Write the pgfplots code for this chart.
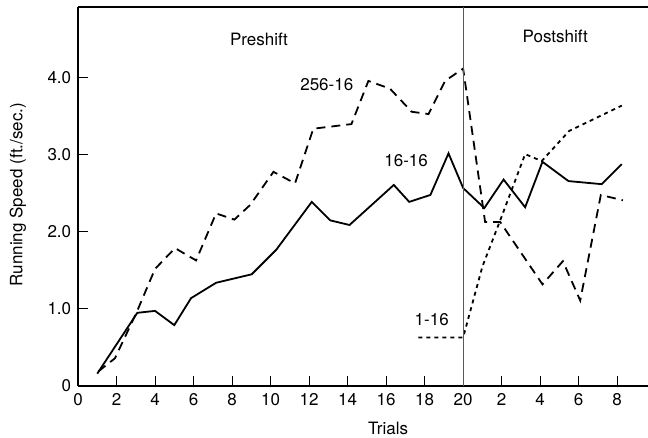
\documentclass[border=0pt]{standalone}
\usepackage{fontspec}
\setmainfont{TeX Gyre Heros}
\usepackage{pgfplots}
\pgfplotsset{compat=1.18}

\begin{document}
\fontsize{17}{20}\selectfont
\begin{tikzpicture}
\begin{axis}[
    at={(0,0)}, anchor=south west,
    scale only axis,
    width=570pt, height=379pt,
    xmin=0, xmax=29.6,
    ymin=0, ymax=4.92,
    axis x line*=box,
    axis y line*=left,
    axis line style={line width=1.3pt},
    tick align=inside,
    xtick pos=bottom,
    ytick pos=left,
    major tick length=10pt,
    tick style={line width=1pt, black},
    xtick={0,2,4,6,8,10,12,14,16,18,20,22,24,26,28},
    xticklabels={0,2,4,6,8,10,12,14,16,18,20,2,4,6,8},
    ytick={0,1,2,3,4},
    yticklabels={0,1.0,2.0,3.0,4.0},
    /pgf/number format/assume math mode=true,
    ticklabel style={font=\fontsize{17}{20}\selectfont},
    xticklabel style={yshift=-2pt},
    yticklabel style={xshift=-1pt},
    xlabel={Trials},
    ylabel={Running Speed (ft./sec.)},
    label style={font=\fontsize{17}{20}\selectfont},
    xlabel style={at={(axis cs:16.1,0)}, anchor=north, yshift=-30pt},
    ylabel style={at={(rel axis cs:0,0.505)}, anchor=south, yshift=46pt},
    clip=false,
]
% 16-16
\addplot[black, line width=1.8pt] coordinates {
(1,0.16) (3.08,0.95) (4.0,0.975) (5.0,0.79) (5.87,1.14) (7.17,1.34) (9.02,1.45)
(10.3,1.77) (12.14,2.39) (13.1,2.15) (14.1,2.09) (16.4,2.61) (17.2,2.39) (18.3,2.48)
(19.24,3.02) (20,2.57) (21.1,2.31) (22.1,2.68) (23.22,2.32) (24.12,2.91) (25.47,2.66)
(27.2,2.62) (28.24,2.88)
};
% 256-16
\addplot[black, line width=1.8pt, dash pattern=on 9pt off 6pt] coordinates {
(1.06,0.19) (1.92,0.36) (3.05,0.96) (4.0,1.52) (5.04,1.79) (6.13,1.63) (7.17,2.24)
(8.12,2.16) (8.94,2.35) (10.15,2.78) (11.27,2.63) (12.22,3.34) (14.2,3.40) (15.08,3.96)
(16.2,3.86) (17.33,3.56) (18.2,3.53) (19.06,3.96) (20,4.12) (21.14,2.13) (21.92,2.13)
(24.12,1.32) (25.18,1.62) (26.08,1.11) (27.15,2.48) (28.3,2.41)
};
% 1-16
\addplot[black, line width=1.8pt, dash pattern=on 4pt off 4pt] coordinates {
(17.68,0.63) (20,0.63) (21,1.55) (22,2.2) (23.22,3.01) (24.08,2.92) (25.5,3.31) (28.24,3.64)
};
\draw[gray!70!black, line width=0.9pt] (axis cs:20,0) -- (axis cs:20,4.92);
\node at (axis cs:9.4,4.50) {Preshift};
\node at (axis cs:24.78,4.54) {Postshift};
\node at (axis cs:12.92,3.91) {256-16};
\node at (axis cs:17.04,2.92) {16-16};
\node at (axis cs:18.37,0.86) {1-16};
\end{axis}
\pgfresetboundingbox
\path (-78pt,-52pt) rectangle (570pt,386pt);
\end{tikzpicture}
\end{document}
